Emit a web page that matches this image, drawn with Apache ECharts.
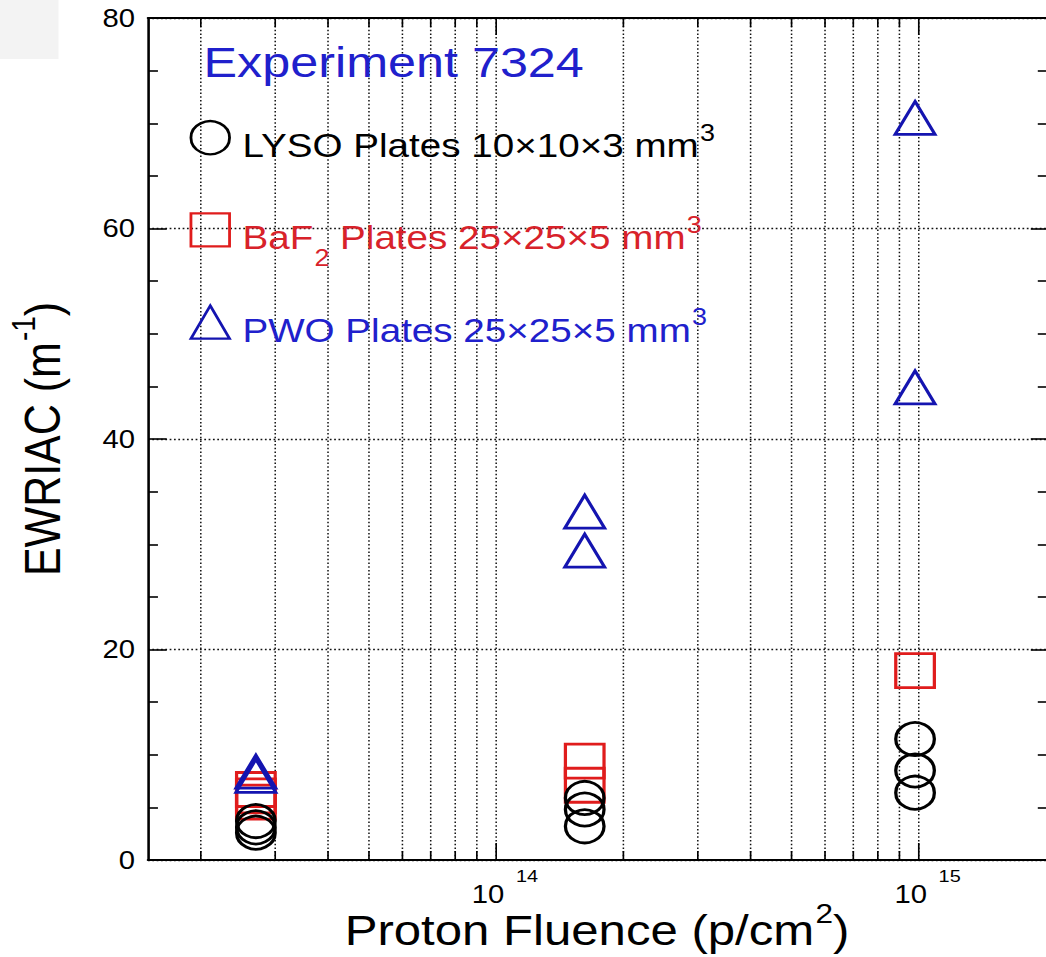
<!DOCTYPE html>
<html>
<head>
<meta charset="utf-8">
<script src="https://cdn.jsdelivr.net/npm/echarts@6/dist/echarts.min.js"></script>
<style>
html, body { margin: 0; padding: 0; background: #ffffff; overflow: hidden; }
#wrap { width: 1046px; height: 957px; overflow: hidden; position: relative; }
#chart { width: 894px; height: 957px; transform: scaleX(1.17); transform-origin: 0 0; }
</style>
</head>
<body>
<div id="wrap"><div id="chart"></div></div>
<script>
// ---------------- data ----------------
const lysoFluence = [2.7e13, 2.7e13, 2.7e13, 1.62e14, 1.62e14, 1.62e14, 9.8e14, 9.8e14, 9.8e14];
const lysoEWRIAC  = [3.7, 3.1, 2.6, 5.9, 4.8, 3.2, 11.5, 8.5, 6.4];

const baf2Fluence = [2.7e13, 2.7e13, 2.7e13, 1.62e14, 1.62e14, 9.8e14];
const baf2EWRIAC  = [6.7, 6.1, 5.5, 9.4, 7.1, 18.0];

const pwoFluence  = [2.7e13, 2.7e13, 1.62e14, 1.62e14, 9.8e14, 9.8e14];
const pwoEWRIAC   = [8.4, 8.0, 33.1, 29.4, 70.5, 44.9];

const seriesNames = ['LYSO', 'BaF2', 'PWO'];
const legendLabels = {
  LYSO: [['LYSO Plates 10×10×3 mm', 't'], ['3', 'sup']],
  BaF2: [['BaF', 't'], ['2', 'sub'], [' Plates 25×25×5 mm', 't'], ['3', 'sup']],
  PWO:  [['PWO Plates 25×25×5 mm', 't'], ['3', 'sup']]
};
const annotationText = 'Experiment 7324';

const xMin = 1.5e13, xMax = 2e15;
const yMin = 0, yMax = 80, yStep = 20, yMinorSplit = 4;
// vertical grid lines / ticks of the log axis (2..9 x 10^n)
const xGridValues = [2e13, 3e13, 4e13, 5e13, 6e13, 7e13, 8e13, 9e13,
                     1e14, 2e14, 3e14, 4e14, 5e14, 6e14, 7e14, 8e14, 9e14, 1e15];

const xTitle = [['Proton Fluence (p/cm', 't'], ['2', 'sup'], [')', 't']];
const yTitle = [['EWRIAC (m', 't'], ['-1', 'sup'], [')', 't']];

// ---------------- styling ----------------
const FONT = '"Liberation Sans", Arial, Helvetica, sans-serif';
const BLACK = '#000000';
const RED = '#d8222a';
const BLUE_TEXT = '#2020cc';
const BLUE_MARK = '#1414b0';
const colorOf = { LYSO: BLACK, BaF2: RED, PWO: BLUE_TEXT };
const markColor = { LYSO: BLACK, BaF2: '#e01c1c', PWO: BLUE_MARK };

function zip(a, b) { return a.map((v, i) => [v, b[i]]); }
function isPow10(v) { const l = Math.log10(v); return Math.abs(l - Math.round(l)) < 1e-6; }
function rich(parts, key) { return parts.map(p => '{' + p[1] + '_' + key + (p === parts[0] ? 'f' : '') + '|' + p[0] + '}').join(''); }

// legend rich styles per colour
const legendRich = {};
Object.keys(colorOf).forEach(k => {
  const c = colorOf[k];
  const base = { fontFamily: FONT, fontSize: 33, lineHeight: 33, color: c, verticalAlign: 'top' };
  legendRich['t_' + k] = Object.assign({}, base, { padding: [8, 0, 15, 0] });
  legendRich['t_' + k + 'f'] = Object.assign({}, base, { padding: [8, 0, 15, 6] });
  legendRich['sup_' + k] = { fontFamily: FONT, fontSize: 23, lineHeight: 23, color: c, verticalAlign: 'top', padding: [0, 0, 0, 1] };
  legendRich['sub_' + k] = { fontFamily: FONT, fontSize: 23, lineHeight: 23, color: c, verticalAlign: 'top', padding: [33, 0, 0, 1] };
});

const chart = echarts.init(document.getElementById('chart'), null, { renderer: 'svg', width: 894, height: 957 });

const scatterBase = (name, xs, ys, symbol, size, z) => ({
  type: 'scatter', name: name, data: zip(xs, ys), symbol: symbol, symbolSize: size, z: z,
  itemStyle: { color: 'rgba(0,0,0,0)', borderColor: markColor[name], borderWidth: 2.8, opacity: 1 },
  emphasis: { disabled: true }, silent: true
});

const option = {
  animation: false,
  backgroundColor: '#ffffff',
  textStyle: { fontFamily: FONT },
  grid: { left: 126.5, right: 0, top: 18, bottom: 97, containLabel: false, outerBoundsMode: 'none' },
  graphic: [
    { type: 'rect', left: 0, top: 0, shape: { x: 0, y: 0, width: 50, height: 59 }, style: { fill: '#f3f3f3' }, z: -10 },
    { type: 'text', x: 174, y: 62, z: 50,
      style: { text: annotationText, fill: BLUE_TEXT, fontSize: 43, fontFamily: FONT, verticalAlign: 'middle', align: 'left' } }
  ],
  legend: {
    orient: 'vertical', left: 162, top: 120, padding: 0, itemWidth: 33, itemHeight: 33, itemGap: 35,
    selectedMode: false,
    data: seriesNames.map(n => ({
      name: n,
      icon: n === 'LYSO' ? 'circle' : (n === 'BaF2' ? 'rect' : 'triangle'),
      itemStyle: { color: 'rgba(0,0,0,0)', borderColor: markColor[n], borderWidth: 2.4, opacity: 1 },
      textStyle: { color: colorOf[n] }
    })),
    formatter: n => rich(legendLabels[n], n),
    textStyle: { fontFamily: FONT, fontSize: 33, rich: legendRich }
  },
  xAxis: [{
    type: 'log', logBase: 10, min: xMin, max: xMax, position: 'bottom',
    axisLine: { show: true, onZero: false, lineStyle: { color: BLACK, width: 2.2 } },
    axisTick: { show: false }, splitLine: { show: false }, minorTick: { show: false },
    axisLabel: {
      show: true, showMinLabel: false, showMaxLabel: false, margin: 8, padding: [0, 0, 0, 15],
      formatter: v => isPow10(v) ? '{b|10}{s|' + Math.round(Math.log10(v)) + '}' : '',
      rich: {
        b: { fontFamily: FONT, fontSize: 25, lineHeight: 25, color: BLACK, verticalAlign: 'top', padding: [14, 0, 0, 0] },
        s: { fontFamily: FONT, fontSize: 17, lineHeight: 17, color: BLACK, verticalAlign: 'top', padding: [0, 0, 0, 10] }
      }
    },
    name: rich(xTitle, 'x'), nameLocation: 'middle', nameGap: 40, nameMoveOverlap: false,
    nameTextStyle: { rich: {
      t_xf: { fontFamily: FONT, fontSize: 42, lineHeight: 42, color: BLACK, verticalAlign: 'top', padding: [10, 0, 0, 0] },
      t_x: { fontFamily: FONT, fontSize: 42, lineHeight: 42, color: BLACK, verticalAlign: 'top', padding: [10, 0, 0, 0] },
      sup_x: { fontFamily: FONT, fontSize: 27, lineHeight: 27, color: BLACK, verticalAlign: 'top', padding: [0, 0, 0, 1] }
    } }
  }, {
    type: 'log', logBase: 10, min: xMin, max: xMax, position: 'top',
    axisLine: { show: true, onZero: false, lineStyle: { color: BLACK, width: 2.2 } },
    axisTick: { show: false }, axisLabel: { show: false }, splitLine: { show: false }
  }],
  yAxis: [{
    type: 'value', min: yMin, max: yMax, interval: yStep, position: 'left',
    axisLine: { show: true, onZero: false, lineStyle: { color: BLACK, width: 2.2 } },
    axisTick: { show: true, inside: true, length: 16, lineStyle: { color: BLACK, width: 1.6 } },
    minorTick: { show: true, splitNumber: yMinorSplit, length: 8.5, lineStyle: { color: BLACK, width: 1.6 } },
    axisLabel: { fontFamily: FONT, fontSize: 25, color: BLACK, margin: 11 },
    splitLine: { show: true, lineStyle: { type: [1.5, 2.2], color: '#111111', width: 1.4 } },
    name: rich(yTitle, 'y'), nameLocation: 'middle', nameRotate: 90, nameGap: 78, nameMoveOverlap: false,
    nameTextStyle: { rich: {
      t_yf: { fontFamily: FONT, fontSize: 43, lineHeight: 43, color: BLACK, verticalAlign: 'top', padding: [10, 0, 0, 0] },
      t_y: { fontFamily: FONT, fontSize: 43, lineHeight: 43, color: BLACK, verticalAlign: 'top', padding: [10, 0, 0, 0] },
      sup_y: { fontFamily: FONT, fontSize: 28, lineHeight: 28, color: BLACK, verticalAlign: 'top', padding: [0, 0, 0, 1] }
    } }
  }, {
    type: 'value', min: yMin, max: yMax, interval: yStep, position: 'right',
    axisLine: { show: false },
    axisTick: { show: true, inside: true, length: 13, lineStyle: { color: BLACK, width: 1.6 } },
    minorTick: { show: true, splitNumber: yMinorSplit, length: 7, lineStyle: { color: BLACK, width: 1.6 } },
    axisLabel: { show: false }, splitLine: { show: false }
  }],
  series: [
    {
      type: 'custom', name: 'grid', xAxisIndex: 0, yAxisIndex: 0, silent: true, z: 1,
      data: xGridValues.map(v => [v, yMin]),
      encode: { x: 0, y: 1 },
      renderItem: function (params, api) {
        const v = api.value(0);
        const b = api.coord([v, yMin]);
        const t = api.coord([v, yMax]);
        const L = isPow10(v) ? 17 : 9;
        return { type: 'group', children: [
          { type: 'line', shape: { x1: b[0], y1: b[1], x2: t[0], y2: t[1] }, style: { stroke: '#111111', lineWidth: 1.3, lineDash: [1.5, 2.2] } },
          { type: 'line', shape: { x1: b[0], y1: b[1], x2: b[0], y2: b[1] - L }, style: { stroke: BLACK, lineWidth: 1.4 } },
          { type: 'line', shape: { x1: t[0], y1: t[1], x2: t[0], y2: t[1] + L }, style: { stroke: BLACK, lineWidth: 1.4 } }
        ] };
      }
    },
    scatterBase('BaF2', baf2Fluence, baf2EWRIAC, 'rect', [33, 34], 3),
    scatterBase('LYSO', lysoFluence, lysoEWRIAC, 'circle', [33, 33], 4),
    scatterBase('PWO', pwoFluence, pwoEWRIAC, 'triangle', [34, 33], 5)
  ]
};
chart.setOption(option);
</script>
</body>
</html>
